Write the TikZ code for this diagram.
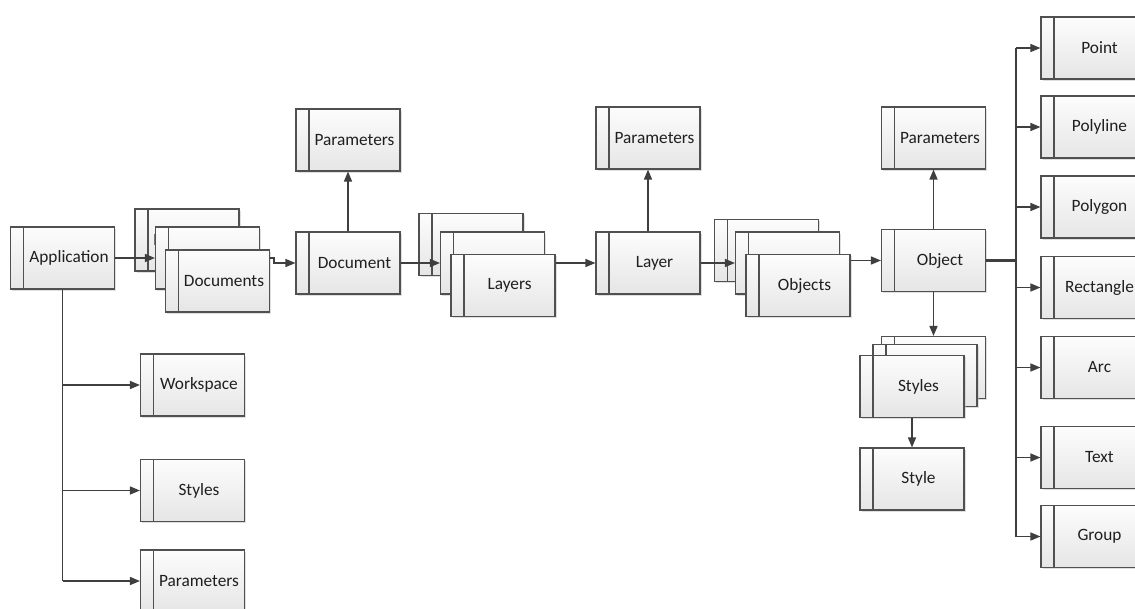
\documentclass[tikz,border=0pt]{standalone}
\usepackage{fontspec}
\setmainfont{Carlito}
\usetikzlibrary{arrows.meta,shadows,calc}
\definecolor{edgecol}{HTML}{505050}
\definecolor{linecol}{HTML}{3F3F3F}
\newcommand{\boxlabel}[1]{\hspace*{13pt}#1}
\tikzset{
  blk/.style={draw=edgecol, line width=1.1pt, top color=black!1, bottom color=black!10,
    minimum width=104pt, minimum height=62pt, inner sep=0pt,
    font=\fontsize{17.3}{20}\selectfont, text=black!88,
    drop shadow={shadow xshift=1.6pt, shadow yshift=-1.6pt, fill=black!25, opacity=0.5},
    path picture={\draw[edgecol, line width=1.1pt]
      ([xshift=13pt]path picture bounding box.north west) --
      ([xshift=13pt]path picture bounding box.south west);}},
  conn/.style={draw=linecol, line width=1.5pt},
  arr/.style={conn, -{Triangle[length=10pt,width=8pt]}},
  bus/.style={draw=linecol, line width=3pt}
}
\begin{document}
\begin{tikzpicture}[x=1pt, y=-1pt]
\useasboundingbox (0,0) rectangle (1135,608);
\clip (0,0) rectangle (1135,608);

% application and its direct children
\node[blk] (app) at (62.5,258) {\boxlabel{Application}};
\node[blk] (workspace) at (192.5,385) {\boxlabel{Workspace}};
\node[blk] (appstyles) at (192.5,490.5) {\boxlabel{Styles}};
\node[blk] (appparams) at (192.5,581) {\boxlabel{Parameters}};

% documents collection (stacked cards)
\node[blk] (docsback) at (187,240) {\boxlabel{Documents}};
\node[blk] (docsmid) at (207.5,258) {};
\node[blk] (docsfront) at (217.5,281) {\boxlabel{Documents}};

\node[blk] (document) at (348,263) {\boxlabel{Document}};
\node[blk] (docparams) at (348,140) {\boxlabel{Parameters}};

% layers collection
\node[blk] (layersback) at (471,244.5) {};
\node[blk] (layersmid) at (492.5,263) {};
\node[blk] (layersfront) at (503,285.5) {\boxlabel{Layers}};

\node[blk] (layer) at (648,263) {\boxlabel{Layer}};
\node[blk] (layerparams) at (648,138) {\boxlabel{Parameters}};

% objects collection
\node[blk] (objsback) at (766.5,250.5) {};
\node[blk] (objsmid) at (787.5,263) {};
\node[blk] (objsfront) at (798,285.5) {\boxlabel{Objects}};

\node[blk] (object) at (933.5,260.5) {\boxlabel{Object}};
\node[blk] (objparams) at (933.5,138) {\boxlabel{Parameters}};

% styles collection of an object
\node[blk] (stylesback) at (933.5,367.5) {};
\node[blk] (stylesmid) at (925,375.5) {};
\node[blk] (stylesfront) at (912,386.5) {\boxlabel{Styles}};
\node[blk] (style) at (912,479) {\boxlabel{Style}};

% object kinds
\node[blk] (point) at (1093,48) {\boxlabel{Point}};
\node[blk] (polyline) at (1093,127) {\boxlabel{Polyline}};
\node[blk] (polygon) at (1093,207) {\boxlabel{Polygon}};
\node[blk] (rectangle) at (1093,287.5) {\boxlabel{Rectangle}};
\node[blk] (arc) at (1093,367.5) {\boxlabel{Arc}};
\node[blk] (text) at (1093,457.5) {\boxlabel{Text}};
\node[blk] (group) at (1093,536.5) {\boxlabel{Group}};

\coordinate (busx) at (1016,260.5);

% main chain
\draw[arr] (app.east) -- (docsmid.west);
\draw[arr] (docsfront.east |- app.east) -- ++(4,0) |- (document.west);
\draw[arr] (document.east) -- (layersmid.west);
\draw[arr] (layersfront.east |- layer.west) -- (layer.west);
\draw[arr] (layer.east) -- (objsmid.west);
\draw[arr] (objsfront.east |- object.west) -- (object.west);

% parameters
\draw[arr] (document.north) -- (docparams.south);
\draw[arr] (layer.north) -- (layerparams.south);
\draw[arr] (object.north) -- (objparams.south);

% styles
\draw[arr] (object.south) -- (stylesback.north);
\draw[arr] (stylesfront.south) -- (style.north);

% application tree
\draw[conn] (app.south) -- (app.south |- appparams.west);
\draw[arr] (app.south |- workspace.west) -- (workspace.west);
\draw[arr] (app.south |- appstyles.west) -- (appstyles.west);
\draw[arr] (app.south |- appparams.west) -- (appparams.west);

% object kinds bus
\draw[bus] (object.east) -- (busx);
\draw[conn] (busx |- point.west) -- (busx |- group.west);
\foreach \k in {point,polyline,polygon,rectangle,arc,text,group}
  \draw[arr] (busx |- \k.west) -- (\k.west);
\end{tikzpicture}
\end{document}
